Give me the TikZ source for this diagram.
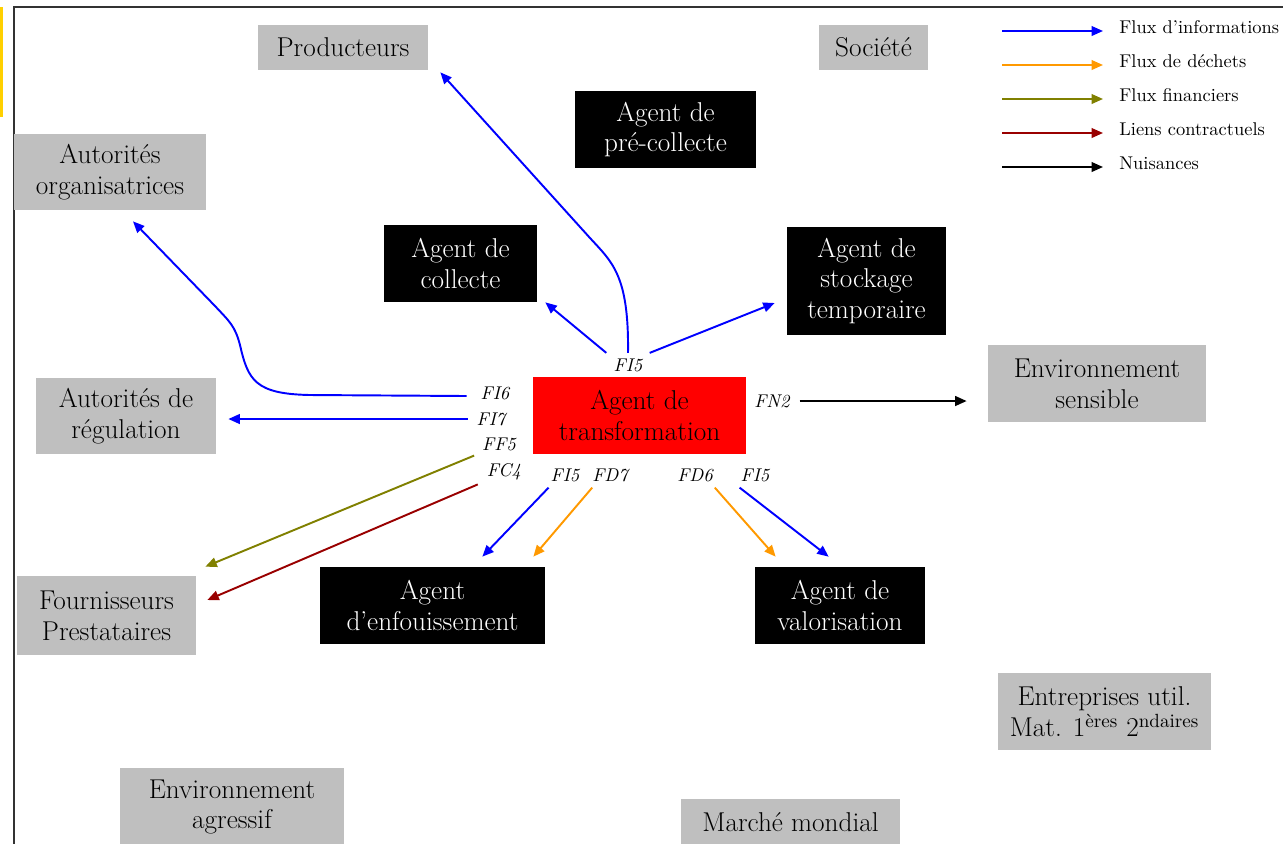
\documentclass[tikz,border=0pt]{standalone}
\usepackage{fontspec}
\usepackage{tikz}
\usetikzlibrary{arrows.meta, calc}

\definecolor{wasteorange}{RGB}{255,153,0}
\definecolor{moneyolive}{RGB}{128,128,0}
\definecolor{contractred}{RGB}{153,0,0}
\definecolor{framegold}{RGB}{255,208,0}

\begin{document}
\begin{tikzpicture}[
    x=0.02cm, y=-0.02cm,
    box/.style={rectangle, inner sep=0pt, align=center, font=\fontsize{15.5}{17.5}\selectfont},
    actor/.style={box, fill=black!25},
    agent/.style={box, fill=black, text=white},
    core/.style={box, fill=red},
    sz/.style 2 args={minimum width=#1*0.02cm, minimum height=#2*0.02cm},
    lbl/.style={font=\fontsize{10.5}{12}\selectfont\itshape, inner sep=1pt},
    legtxt/.style={font=\fontsize{10.5}{12}\selectfont, anchor=west, inner sep=0pt},
    arr/.style={-{Triangle[length=6.5pt,width=5.5pt]}, line width=1.1pt},
    info/.style={arr, blue},
    waste/.style={arr, wasteorange},
    money/.style={arr, moneyolive},
    contract/.style={arr, contractred},
    nuis/.style={arr, black}
]
    \useasboundingbox (0,0) rectangle (1283,843);
    \clip (0,0) rectangle (1283,843);

    % Frame
    \fill[framegold] (0,7) rectangle (3,117);
    \draw[line width=1.3pt, black!80] (14,860) -- (14,7) -- (1300,7);

    % Actors
    \node[actor, sz={170}{45}] (prod) at (343,47.5) {Producteurs};
    \node[actor, sz={109}{45}] (soc) at (873.5,47.5) {Société};
    \node[actor, sz={192}{76}] (autorg) at (110,172) {Autorités\\organisatrices};
    \node[actor, sz={180}{76}] (autreg) at (126,416) {Autorités de\\régulation};
    \node[actor, sz={218}{77}] (envsens) at (1097,383.5) {Environnement\\sensible};
    \node[actor, sz={179}{79}] (fourn) at (106.5,615.5) {Fournisseurs\\Prestataires};
    \node[actor, sz={213}{77}] (entr) at (1104.5,711.5) {Entreprises util.\\Mat. 1\textsuperscript{ères} 2\textsuperscript{ndaires}};
    \node[actor, sz={224}{78}] (envagr) at (232,807) {Environnement\\agressif};
    \node[actor, sz={219}{46}] (marche) at (790.5,822) {Marché mondial};

    % Agents
    \node[agent, sz={181}{77}] (precol) at (665.5,129.5) {Agent de\\pré-collecte};
    \node[agent, sz={153}{77}] (col) at (460.5,263.5) {Agent de\\collecte};
    \node[agent, sz={159}{108}] (stock) at (866.5,281) {Agent de\\stockage\\temporaire};
    \node[agent, sz={225}{77}] (enf) at (432.5,605.5) {Agent\\d’enfouissement};
    \node[agent, sz={170}{77}] (valo) at (840,605.5) {Agent de\\valorisation};
    \node[core, sz={213}{77}] (transf) at (639.5,415.5) {Agent de\\transformation};

    % Flow labels
    \node[lbl, fill=white, inner xsep=4pt, inner ysep=3pt] (fi5h) at (628,365) {FI5};
    \node[lbl] (fi6) at (495,393) {FI6};
    \node[lbl] (fi7) at (491,419) {FI7};
    \node[lbl] (ff5) at (499,444) {FF5};
    \node[lbl] (fc4) at (504,472) {FC4};
    \node[lbl] (fi5g) at (565,475) {FI5};
    \node[lbl] (fd7) at (610,475) {FD7};
    \node[lbl] (fd6) at (695,475) {FD6};
    \node[lbl] (fi5d) at (755,475) {FI5};
    \node[lbl] (fn2) at (772,401) {FN2};

    % Arrow ends
    \coordinate (tProd) at ($(prod.south east)+(12,2)$);
    \coordinate (tCol) at ($(col.south east)+(8,0)$);
    \coordinate (tStock) at ($(stock.west)+(-12,22)$);
    \coordinate (tOrg) at ($(autorg.south)+(23,11)$);
    \coordinate (tReg) at ($(autreg.east)+(12,3)$);
    \coordinate (tFf) at ($(fourn.north east)+(9,-9)$);
    \coordinate (tFc) at ($(fourn.east)+(11,-15.5)$);
    \coordinate (tEnfA) at ($(enf.north east)+(-63,-10)$);
    \coordinate (tEnfB) at ($(enf.north east)+(-12,-10)$);
    \coordinate (tValA) at ($(valo.north west)+(21,-10)$);
    \coordinate (tValB) at ($(valo.north west)+(74,-10)$);
    \coordinate (sEnv) at ($(fn2.east)+(8,0)$);
    \coordinate (tEnv) at ($(envsens.west)+(-21,0)$);

    % Flows
    \draw[info] (fi5h.north) .. controls (629,275) and (612,262) .. (590,238) -- (tProd);
    \draw[info] (fi5h.north west) -- (tCol);
    \draw[info] (fi5h.north east) -- (tStock);
    \draw[info] ($(fi6.west)+(-12,3)$) -- (310,395) .. controls (255,394) and (248,380) .. (240,345)
        .. controls (235,326) and (230,322) .. (215,306) -- (tOrg);
    \draw[info] ($(fi7.west)+(-7,0)$) -- (tReg);
    \draw[money] ($(ff5.south west)+(-6,3)$) -- (tFf);
    \draw[contract] ($(fc4.south west)+(-7,2)$) -- (tFc);
    \draw[info] ($(fi5g.south west)+(0,4)$) -- (tEnfA);
    \draw[waste] ($(fd7.south west)+(2,4)$) -- (tEnfB);
    \draw[waste] ($(fd6.south east)+(0,4)$) -- (tValA);
    \draw[info] ($(fi5d.south west)+(1,4)$) -- (tValB);
    \draw[nuis] (sEnv) -- (sEnv -| tEnv);

    % Legend
    \foreach \yy/\sty/\txt [count=\i] in {27/info/Flux d’informations, 61/waste/Flux de déchets,
        95/money/Flux financiers, 129/contract/Liens contractuels, 163/nuis/Nuisances} {
        \node[legtxt] (leg\i) at (1119,\yy) {\txt};
        \coordinate (lega\i) at (1002,\yy+4);
        \draw[\sty] (lega\i) -- ($(leg\i.west)+(-16,4)$);
    }
\end{tikzpicture}
\end{document}
